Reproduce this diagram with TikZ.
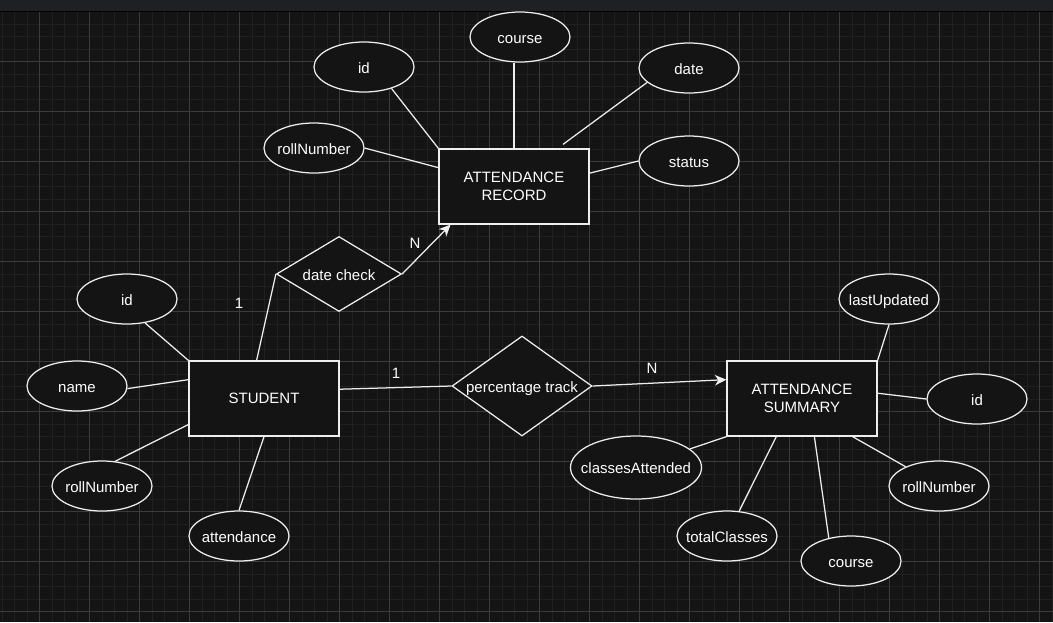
\documentclass[tikz,border=0pt]{standalone}
\usepackage{fontspec}
\setmainfont{Liberation Sans}
\usetikzlibrary{shapes.geometric,arrows.meta}
\definecolor{canvasbg}{HTML}{141414}
\definecolor{topbar}{HTML}{1F2023}
\definecolor{gridminor}{HTML}{202020}
\definecolor{gridmajor}{HTML}{3B3B3B}
\definecolor{inkline}{HTML}{EEEEEE}
\tikzset{
	entity/.style={draw=inkline, fill=canvasbg, line width=1.25pt, minimum width=150pt, minimum height=75pt, inner sep=0pt, align=center, text=white, font=\fontsize{15pt}{18pt}\selectfont},
	attrib/.style={ellipse, draw=inkline, fill=canvasbg, line width=1.25pt, minimum width=100pt, minimum height=50pt, inner xsep=-22pt, inner ysep=0pt, text height=12pt, text depth=0pt, text=white, font=\fontsize{15pt}{18pt}\selectfont},
	relation/.style={diamond, draw=inkline, fill=canvasbg, line width=1.25pt, shape aspect=1.5, inner sep=0pt, text height=12pt, text depth=0pt, text=white, font=\fontsize{15pt}{18pt}\selectfont},
	link/.style={draw=inkline, line width=1.25pt},
	flow/.style={link, -{Stealth[length=11.5pt,width=10.5pt,inset=3.5pt]}},
	cardlabel/.style={text=white, inner sep=0pt, font=\fontsize{15pt}{18pt}\selectfont},
	minorline/.style={draw=gridminor, line width=1pt},
	majorline/.style={draw=gridmajor, line width=1pt},
}

\begin{document}
\begin{tikzpicture}[x=1pt, y=-1pt]
			%%%%% START %%%%%
			
			\useasboundingbox (0,0) rectangle (1053,622);
			\fill[canvasbg] (0,0) rectangle (1053,622);
			\foreach \gx in {0,...,84} \draw[minorline] ({2.2+12.5*\gx},11.5) -- ({2.2+12.5*\gx},622);
			\foreach \gy in {1,...,48} \draw[minorline] (0,{11.5+12.5*\gy}) -- (1053,{11.5+12.5*\gy});
			\foreach \gx in {0,...,20} \draw[majorline] ({39.7+50*\gx},11.5) -- ({39.7+50*\gx},622);
			\foreach \gy in {1,...,12} \draw[majorline] (0,{11.5+50*\gy}) -- (1053,{11.5+50*\gy});
			\fill[topbar] (0,0) rectangle (1053,11);
			\draw[black, line width=1pt] (0,11.5) -- (1053,11.5);
			
			% record
			\node[entity] (rec) at (514,186.5) {ATTENDANCE\\RECORD};
			\node[attrib] (rid) at (364,67) {id};
			\node[attrib] (rcourse) at (520,37) {course};
			\node[attrib] (rdate) at (689,68) {date};
			\node[attrib] (rroll) at (314,148) {rollNumber};
			\node[attrib] (rstatus) at (689,161) {status};
			\coordinate (rdatefoot) at ([xshift=49pt,yshift=4pt]rec.north);
			
			\draw[link] (rid.-38) -- (rec.north west);
			\draw[link] (rcourse.south -| rec.north) -- (rec.north);
			\draw[link] (rdate.199) -- (rdatefoot);
			\draw[link] (rroll.east) -- (rec.166);
			\draw[link] (rstatus.west) -- (rec.10);
			
			% student
			\node[entity] (stu) at (264,398.5) {STUDENT};
			\node[attrib] (sid) at (127,299) {id};
			\node[attrib] (sname) at (77,386) {name};
			\node[attrib] (sroll) at (102,486) {rollNumber};
			\node[attrib] (satt) at (239,536) {attendance};
			
			\draw[link] (sid.-53) -- (stu.north west);
			\draw[link] (sname.-3) -- (stu.166);
			\draw[link] (sroll.62) -- (stu.199);
			\draw[link] (satt.north) -- (stu.south);
			
			% relations
			\node[relation, minimum width=125pt, minimum height=75pt] (chk) at (339,274) {date check};
			\node[relation, minimum width=140pt, minimum height=100pt] (pct) at (522,386) {percentage track};
			
			\draw[link] (chk.west) -- (stu.101);
			\draw[flow] (chk.east) -- (rec.211);
			\draw[link] (stu.7) -- (pct.west);
			
			\node[cardlabel] (chkone) at (239,303) {1};
			\node[cardlabel] (chkmany) at (415,243) {N};
			\node[cardlabel] (pctone) at (396,373) {1};
			\node[cardlabel] (pctmany) at (652,368) {N};
			
			% summary
			\node[entity] (sum) at (802,398.5) {ATTENDANCE\\SUMMARY};
			\node[attrib] (alast) at (889,299) {lastUpdated};
			\node[attrib] (aid) at (977,399) {id};
			\node[attrib] (aroll) at (939,486) {rollNumber};
			\node[attrib] (acourse) at (851,561) {course};
			\node[attrib] (atotal) at (727,536) {totalClasses};
			\node[attrib, minimum width=131pt, minimum height=63pt] (aclass) at (636,467.5) {classesAttended};
			
			\draw[flow] (pct.east) -- (sum.166);
			\draw[link] (alast.south) -- (sum.north east);
			\draw[link] (aid.west) -- (sum.4);
			\draw[link] (aroll.150) -- (sum.-37);
			\draw[link] (acourse.134) -- (sum.-72);
			\draw[link] (atotal.64) -- (sum.236);
			\draw[link] (aclass.19) -- (sum.south west);
			
			%%%%% END %%%%%
\end{tikzpicture}
\end{document}
